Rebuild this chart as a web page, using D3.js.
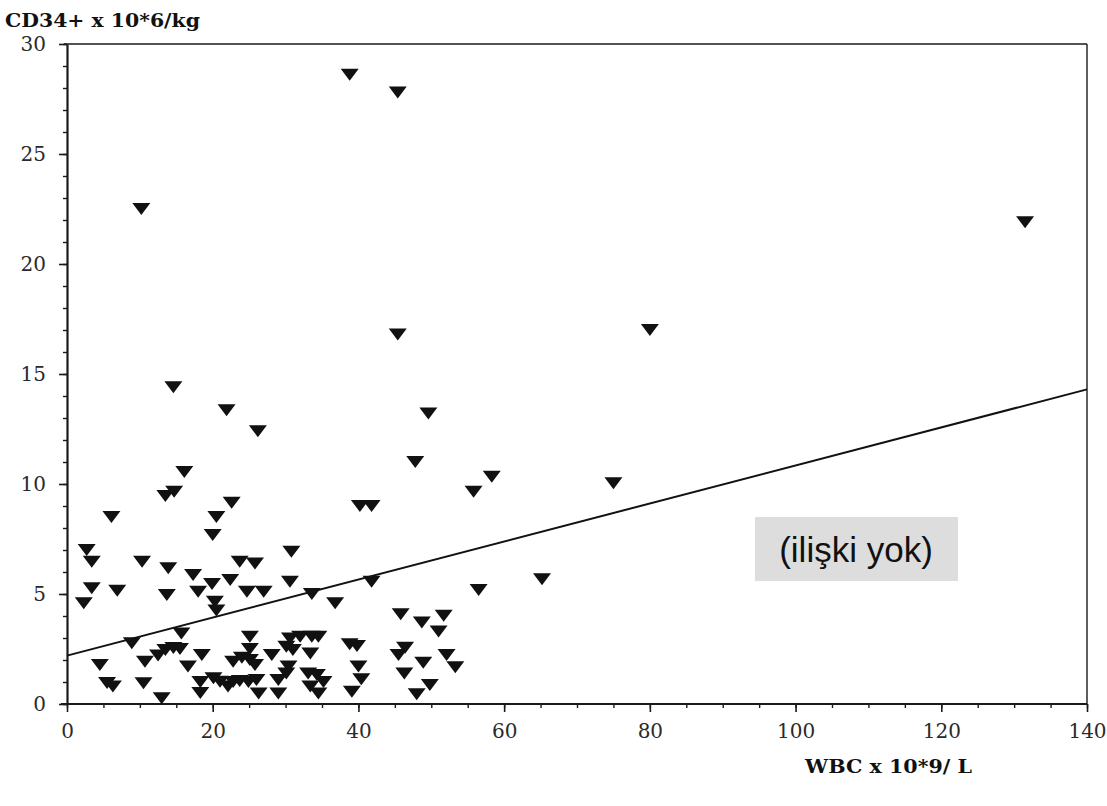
<!DOCTYPE html>
<html>
<head>
<meta charset="utf-8">
<script src="https://cdn.jsdelivr.net/npm/d3@7"></script>
<style>
  html, body { margin: 0; padding: 0; background: #ffffff; }
  svg { display: block; }
</style>
</head>
<body>
<svg id="chart" width="1107" height="806"></svg>
<script>
// ---- data ----
const wbc = [
  38.8, 45.4, 10.2, 131.5, 45.4, 80.0, 14.6, 21.9, 26.2, 49.6,
  47.8, 16.1, 14.7, 13.5, 22.6, 6.1, 20.5, 40.2, 41.8, 58.3,
  55.8, 75.0, 65.2, 56.5, 20.0, 2.7, 3.4, 10.3, 13.9, 23.7,
  25.8, 30.8, 3.4, 2.3, 6.9, 13.7, 17.3, 18.0, 19.9, 20.3,
  20.5, 22.4, 24.7, 27.0, 30.6, 33.6, 36.8, 41.8, 45.8, 48.7,
  51.7, 51.0, 46.4, 45.5, 48.9, 52.1, 53.3, 46.3, 49.8, 48.0,
  38.8, 39.8, 40.0, 40.4, 39.1, 8.9, 4.5, 5.5, 6.3, 10.5,
  13.0, 10.7, 12.5, 13.5, 14.6, 15.5, 15.7, 16.6, 18.5, 18.3,
  18.3, 20.1, 21.0, 22.1, 22.8, 23.7, 24.9, 26.0, 26.3, 22.8,
  24.0, 25.1, 25.8, 25.1, 25.1, 28.1, 30.6, 32.0, 33.6, 34.5,
  30.1, 31.0, 33.4, 29.0, 30.1, 29.0, 30.4, 33.1, 34.3, 33.4,
  34.5, 35.2
];
const cd34 = [
  28.6, 27.8, 22.5, 21.9, 16.8, 17.0, 14.4, 13.35, 12.4, 13.2,
  11.0, 10.55, 9.65, 9.45, 9.15, 8.5, 8.5, 9.0, 9.0, 10.33,
  9.65, 10.03, 5.67, 5.18, 7.68, 7.0, 6.47, 6.47, 6.17, 6.47,
  6.39, 6.92, 5.26, 4.58, 5.15, 4.95, 5.86, 5.1, 5.45, 4.65,
  4.25, 5.64, 5.1, 5.1, 5.56, 5.0, 4.58, 5.56, 4.08, 3.70,
  4.01, 3.29, 2.56, 2.23, 1.88, 2.23, 1.67, 1.39, 0.86, 0.44,
  2.72, 2.64, 1.70, 1.12, 0.56, 2.76, 1.77, 0.95, 0.8, 0.94,
  0.26, 1.92, 2.2, 2.45, 2.55, 2.5, 3.21, 1.70, 2.23, 1.0,
  0.5, 1.17, 1.01, 0.79, 1.0, 1.05, 1.0, 1.09, 0.48, 1.92,
  2.1, 2.0, 1.77, 3.06, 2.5, 2.23, 2.98, 3.06, 3.06, 3.06,
  2.6, 2.45, 2.3, 1.09, 1.39, 0.48, 1.70, 1.39, 1.32, 0.79,
  0.48, 1.0
];
const regX = [0, 140];
const regY = [2.2, 14.3];
const xTickValues = [0, 20, 40, 60, 80, 100, 120, 140];
const yTickValues = [0, 5, 10, 15, 20, 25, 30];
const yTitle = "CD34+ x 10*6/kg";
const xTitle = "WBC x 10*9/ L";
const note = "(ilişki yok)";

(function () {
// ---- layout ----
const svg = d3.select("#chart");
const mLeft = 67, mRight = 1087, mTop = 44, mBottom = 704;
const x = d3.scaleLinear().domain([0, 140]).range([mLeft, mRight]);
const y = d3.scaleLinear().domain([0, 30]).range([mBottom, mTop]);
const serif = "'DejaVu Serif', 'Liberation Serif', serif";
const ink = "#1a1a1a";

svg.append("rect").attr("width", 1107).attr("height", 806).attr("fill", "#fff");

// frame: top and right
svg.append("line").attr("x1", mLeft - 3).attr("x2", mRight).attr("y1", mTop).attr("y2", mTop)
  .attr("stroke", ink).attr("stroke-width", 1.6);
svg.append("line").attr("x1", mRight).attr("x2", mRight).attr("y1", mTop).attr("y2", mBottom)
  .attr("stroke", ink).attr("stroke-width", 1.4);

// minor ticks
const gMinor = svg.append("g");
gMinor.append("g").attr("transform", `translate(0,${mBottom})`)
  .call(d3.axisBottom(x).tickValues(d3.range(0, 141, 5)).tickSize(4).tickFormat(""))
  .call(g => g.select(".domain").remove())
  .selectAll("line").attr("stroke", ink).attr("stroke-width", 1.4);
gMinor.append("g").attr("transform", `translate(${mLeft},0)`)
  .call(d3.axisLeft(y).tickValues(d3.range(0, 31, 1)).tickSize(4).tickFormat(""))
  .call(g => g.select(".domain").remove())
  .selectAll("line").attr("stroke", ink).attr("stroke-width", 1.4);

// major axes
const gx = svg.append("g").attr("transform", `translate(0,${mBottom})`)
  .call(d3.axisBottom(x).tickValues(xTickValues).tickSize(8).tickSizeOuter(0).tickPadding(12));
gx.select(".domain").attr("stroke", ink).attr("stroke-width", 1.8).attr("d", `M${mLeft - 6},0H${mRight}`);
gx.selectAll(".tick line").attr("stroke", ink).attr("stroke-width", 1.6);
gx.selectAll(".tick text").attr("font-family", serif).attr("font-size", 20).attr("fill", "#2a2a2a");

const gy = svg.append("g").attr("transform", `translate(${mLeft},0)`)
  .call(d3.axisLeft(y).tickValues(yTickValues).tickSize(8).tickSizeOuter(0).tickPadding(13));
gy.select(".domain").attr("stroke", ink).attr("stroke-width", 2.2);
gy.selectAll(".tick line").attr("stroke", ink).attr("stroke-width", 1.6);
gy.selectAll(".tick text").attr("font-family", serif).attr("font-size", 20).attr("fill", "#2a2a2a");

// regression line
const line = d3.line().x(d => x(d[0])).y(d => y(d[1]));
svg.append("path").datum(d3.zip(regX, regY)).attr("d", line)
  .attr("fill", "none").attr("stroke", "#111").attr("stroke-width", 2);

// points: downward triangles
const tri = "M-9,-6L9,-6L0,6Z";
svg.append("g").selectAll("path").data(d3.zip(wbc, cd34)).join("path")
  .attr("transform", d => `translate(${x(d[0])},${y(d[1])})`)
  .attr("d", tri).attr("fill", "#111");

// titles
svg.append("text").attr("x", 5).attr("y", 27).text(yTitle)
  .attr("textLength", 195).attr("lengthAdjust", "spacingAndGlyphs")
  .attr("font-family", serif).attr("font-weight", "bold").attr("font-size", 18).attr("fill", "#111");
svg.append("text").attr("x", 805).attr("y", 773).text(xTitle)
  .attr("textLength", 167).attr("lengthAdjust", "spacingAndGlyphs")
  .attr("font-family", serif).attr("font-weight", "bold").attr("font-size", 18).attr("fill", "#111");

// annotation box
svg.append("rect").attr("x", 755).attr("y", 517).attr("width", 203).attr("height", 64).attr("fill", "#dddddd");
svg.append("text").attr("x", 856).attr("y", 562).attr("text-anchor", "middle").text(note)
  .attr("font-family", "'Liberation Sans', Arial, sans-serif").attr("font-size", 35).attr("fill", "#111");
})();
</script>
</body>
</html>
